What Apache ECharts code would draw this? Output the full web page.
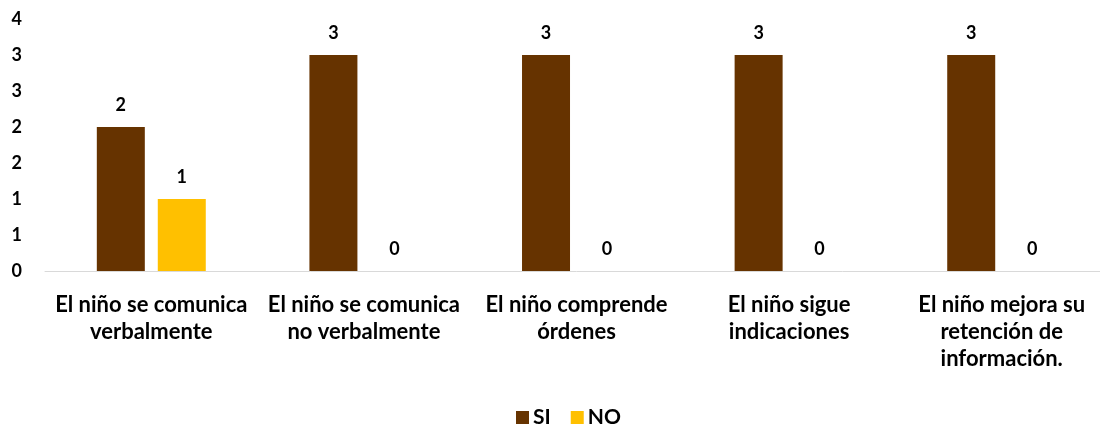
<!DOCTYPE html>
<html>
<head>
<meta charset="utf-8">
<script src="https://cdn.jsdelivr.net/npm/echarts@6/dist/echarts.min.js"></script>
<style>
  html, body { margin: 0; padding: 0; background: #fff; overflow: hidden; }
  /* el area del grafico se sale un poco por la derecha, como en el original */
  #chart { width: 1108px; height: 424px; }
</style>
</head>
<body>
<div id="chart"></div>
<script>
// categorias del eje x (saltos de linea como en el original)
var categorias = [
  'El niño se comunica\nverbalmente',
  'El niño se comunica\nno verbalmente',
  'El niño comprende\nórdenes',
  'El niño sigue\nindicaciones',
  'El niño mejora su\nretención de\ninformación.'
];
var valoresSi = [2, 3, 3, 3, 3];
var valoresNo = [1, 0, 0, 0, 0];
var nombres = ['SI', 'NO'];

var fuente = 'Lato';
var chart = echarts.init(document.getElementById('chart'));

var option = {
  animation: false,
  textStyle: { fontFamily: fuente },
  grid: { left: 45, top: 19, right: 0, height: 252, containLabel: false },
  legend: {
    top: 402,
    left: 511,
    itemWidth: 13,
    itemHeight: 13,
    itemGap: 20,
    icon: 'rect',
    textStyle: { fontFamily: fuente, fontWeight: 'bold', fontSize: 21, color: '#000', padding: [0, 0, 0, -1] },
    data: nombres
  },
  xAxis: {
    type: 'category',
    data: categorias,
    axisLine: { lineStyle: { color: '#d9d9d9', width: 1 } },
    axisTick: { show: false },
    axisLabel: {
      interval: 0,
      margin: 20,
      fontFamily: fuente,
      fontWeight: 'bold',
      fontSize: 22,
      lineHeight: 27,
      color: '#000'
    }
  },
  yAxis: {
    type: 'value',
    min: 0,
    max: 3.5,
    interval: 0.5,
    splitLine: { show: false },
    axisLine: { show: false },
    axisTick: { show: false },
    axisLabel: {
      margin: 23,
      fontFamily: fuente,
      fontWeight: 'bold',
      fontSize: 18,
      color: '#000',
      formatter: function (v) { return Math.round(v); }
    }
  },
  series: [
    {
      name: nombres[0],
      type: 'bar',
      data: valoresSi,
      barWidth: 48,
      barGap: '27%',
      itemStyle: { color: '#663300' },
      label: {
        show: true, position: 'top', distance: 13,
        fontFamily: fuente, fontWeight: 'bold', fontSize: 18, color: '#000'
      }
    },
    {
      name: nombres[1],
      type: 'bar',
      data: valoresNo,
      barWidth: 48,
      itemStyle: { color: '#ffc000' },
      label: {
        show: true, position: 'top', distance: 13,
        fontFamily: fuente, fontWeight: 'bold', fontSize: 18, color: '#000'
      }
    }
  ]
};

chart.setOption(option);
</script>
</body>
</html>
